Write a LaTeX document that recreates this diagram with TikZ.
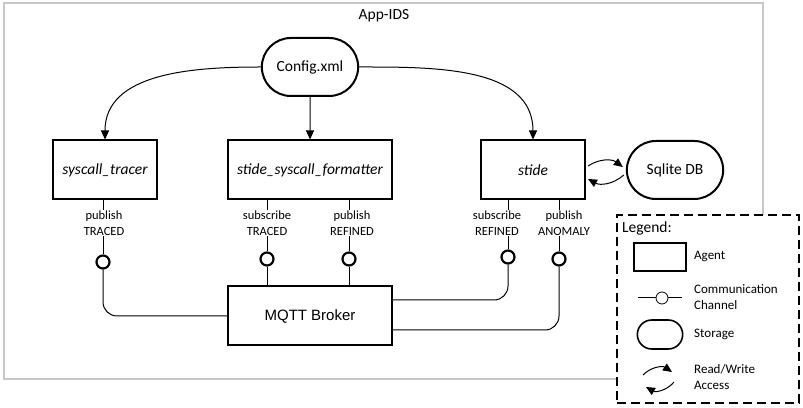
\documentclass[tikz,border=0pt]{standalone}
\usepackage{fontspec}
\setmainfont{Carlito}
\newfontfamily\brokerfont{Liberation Sans}
\usetikzlibrary{shapes,arrows.meta,positioning,calc}
\usepackage{xcolor}
\definecolor{framegray}{RGB}{200,200,200}

\begin{document}
\begin{tikzpicture}[x=1pt, y=1pt, node distance=2cm,
    >={Triangle[length=9pt,width=8pt]},
    agent/.style={rectangle, draw, line width=2pt, minimum width=104pt, minimum height=59pt, font=\fontsize{15.5}{18}\selectfont\itshape},
    store/.style={rounded rectangle, draw, line width=2pt, minimum width=103pt, minimum height=58pt, font=\fontsize{15.5}{18}\selectfont},
    port/.style={circle, draw, line width=2.2pt, minimum size=13pt, inner sep=0pt, fill=white},
    topic/.style={fill=white, inner sep=1pt, align=center, font=\fontsize{12.5}{16}\selectfont},
    wire/.style={line width=1pt},
    legtext/.style={anchor=west, align=left, inner sep=0pt, font=\fontsize{13}{16}\selectfont}]

    \useasboundingbox (0,0) rectangle (803,407);

    % App-IDS frame
    \draw[framegray, line width=1.5pt] (4,28) rectangle (763,404);
    \node[font=\fontsize{15.5}{18}\selectfont] (title) at (384,391) {App-IDS};

    % agents and storage
    \node[agent] (tracer) at (105,237) {syscall\_tracer};
    \node[agent, minimum width=164pt] (fmt) at (310,237) {stide\_syscall\_formatter};
    \node[agent] (stide) at (533,237) {stide};
    \node[store] (sqlite) at (675,237) {Sqlite DB};
    \node[store, above of=fmt, node distance=103pt] (cfg) {Config.xml};
    \node[agent, minimum width=164pt, below of=fmt, node distance=146pt,
          font=\brokerfont\fontsize{15}{18}\selectfont] (broker) {MQTT Broker};

    \draw[wire,->] (cfg.west) to[out=180,in=90] (tracer.north);
    \draw[wire,->] (cfg) -- (fmt);
    \draw[wire,->] (cfg.east) to[out=0,in=90] (stide.north);

    % read/write access
    \draw[wire,->] ([xshift=2pt,yshift=4pt]stide.east) to[bend left=35] ([xshift=-3pt,yshift=3pt]sqlite.west);
    \draw[wire,->] ([xshift=-2pt,yshift=-5pt]sqlite.west) to[bend left=35] ([xshift=2pt,yshift=-9pt]stide.east);

    % channels
    \node[port] (ptr) at (103,145) {};
    \node[port] (fsub) at (267,148) {};
    \node[port] (fpub) at (349,148) {};
    \node[port] (ssub) at (508,150) {};
    \node[port] (spub) at (559,148) {};

    \draw[wire] (tracer.south -| ptr) -- (ptr);
    \draw[wire] (fmt.south -| fsub) -- (fsub);
    \draw[wire] (fmt.south -| fpub) -- (fpub);
    \draw[wire] (stide.south -| ssub) -- (ssub);
    \draw[wire] (stide.south -| spub) -- (spub);

    \draw[wire, rounded corners=14pt] (ptr) |- (broker.west);
    \draw[wire] (fsub) -- (fsub |- broker.north);
    \draw[wire] (fpub) -- (fpub |- broker.north);
    \draw[wire, rounded corners=14pt] (ssub) |- ([yshift=16pt]broker.east);
    \draw[wire, rounded corners=14pt] (spub) |- ([yshift=-14pt]broker.east);

    \node[topic] (tptr) at (104,184) {publish\\TRACED};
    \node[topic] (tfsub) at (267,184) {subscribe\\TRACED};
    \node[topic] (tfpub) at (352,184) {publish\\REFINED};
    \node[topic] (tssub) at (497,184) {subscribe\\REFINED};
    \node[topic] (tspub) at (564,184) {publish\\ANOMALY};

    % legend
    \node[draw, line width=2pt, dash pattern=on 9pt off 5pt, fill=white,
          minimum width=182pt, minimum height=188pt] (legend) at (708,98) {};
    \node[anchor=west, inner sep=0pt, font=\fontsize{15.5}{18}\selectfont] (legtitle) at (622,179) {Legend:};
    \node[rectangle, draw, line width=1.6pt, minimum width=52pt, minimum height=28pt] (lagent) at (660,150) {};
    \node[legtext] (tagent) at (694,151) {Agent};
    \coordinate (lcl) at (638,109);
    \coordinate (lcr) at (682,109);
    \draw[wire] (lcl) -- (lcr);
    \node[circle, draw, line width=0.8pt, fill=white, minimum size=12pt, inner sep=0pt] (lport) at (662,109) {};
    \node[legtext] (tchan) at (694,110) {Communication\\Channel};
    \node[store, minimum width=52pt, minimum height=29pt, line width=1.6pt] (lstore) at (660,72.5) {};
    \node[legtext] (tstore) at (694,73) {Storage};
    \coordinate (lr1) at (643,32);
    \coordinate (lr2) at (672,35);
    \coordinate (lr3) at (674,25);
    \coordinate (lr4) at (646,20);
    \draw[wire,->] (lr1) to[bend left=40] (lr2);
    \draw[wire,->] (lr3) to[bend left=40] (lr4);
    \node[legtext] (trw) at (694,30) {Read/Write\\Access};
\end{tikzpicture}
\end{document}
